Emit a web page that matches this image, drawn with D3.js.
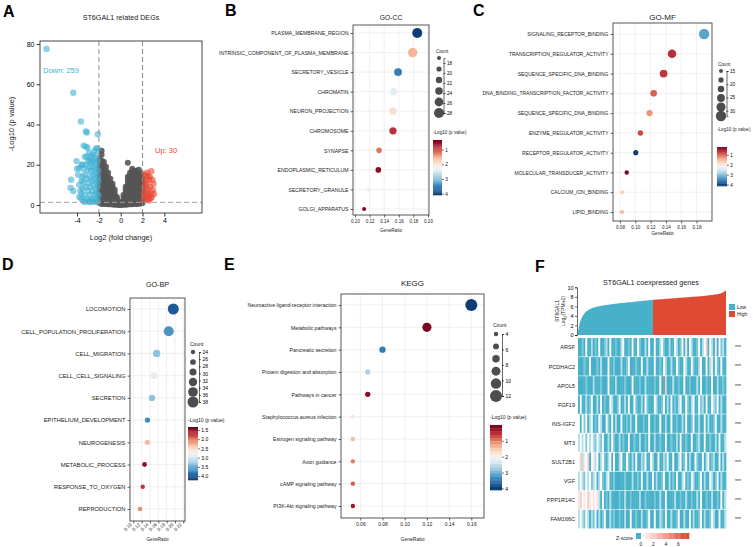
<!DOCTYPE html>
<html>
<head>
<meta charset="utf-8">
<script src="https://cdn.jsdelivr.net/npm/d3@7"></script>
<style>
  body { margin: 0; background: #fff; }
  svg { display: block; font-family: "Liberation Sans", Arial, sans-serif; }
</style>
</head>
<body>
<svg id="fig" width="753" height="547"></svg>
<script>
// ---------- A: volcano ----------
// [log2FC, -log10 p]
const volcanoDown = [
  [-6.8, 77.5], [-4.35, 55.8], [-3.65, 41.5], [-3.2, 36.5], [-3.1, 36], [-2.1, 35.2],
  [-3.4, 29.5], [-3.2, 29], [-3.05, 28.5], [-2.25, 28.2], [-2.1, 28], [-4.05, 21.8],
  [-3.5, 20], [-3.8, 18.3], [-4.55, 12.5], [-4.6, 8.5], [-4.35, 6.9], [-3.6, 5.4],
  [-3.3, 24], [-2.6, 25], [-2.8, 22], [-2.4, 23.5], [-3.6, 3], [-3.5, 8], [-3.5, 14],
  [-3.4, 18], [-3.4, 11], [-3.3, 5], [-3.3, 15], [-3.2, 20], [-3.2, 9], [-3.1, 3],
  [-3.1, 13], [-3.0, 17], [-3.0, 7], [-3.0, 22], [-2.9, 11], [-2.9, 2], [-2.9, 19],
  [-2.8, 5], [-2.8, 14], [-2.8, 9], [-2.7, 17], [-2.7, 3], [-2.7, 21], [-2.6, 7],
  [-2.6, 12], [-2.6, 19], [-2.5, 2], [-2.5, 10], [-2.5, 15], [-2.5, 22], [-2.4, 5],
  [-2.4, 13], [-2.4, 18], [-2.3, 8], [-2.3, 3], [-2.3, 16], [-2.3, 21], [-2.2, 11],
  [-2.2, 6], [-2.2, 19], [-2.2, 25], [-2.1, 2], [-2.1, 9], [-2.1, 14], [-2.1, 22],
  [-2.05, 5], [-2.05, 17], [-2.05, 12], [-3.9, 15], [-3.8, 10], [-3.7, 7], [-3.6, 12],
  [-3.6, 20], [-3.4, 2], [-3.3, 1.5], [-2.9, 1.5], [-2.6, 1.5], [-2.2, 1.5], [-3.8, 4],
  [-4.0, 18], [-3.1, 24], [-2.9, 26], [-2.4, 27], [-2.7, 24]
];
const volcanoUp = [
  [2.8, 16.8], [3.0, 10.6], [2.95, 7.6], [2.5, 14], [2.3, 14.5], [2.2, 12], [2.4, 11],
  [2.6, 12.5], [2.7, 9], [2.5, 8], [2.3, 7], [2.2, 4], [2.4, 4.5], [2.6, 5], [2.8, 6],
  [2.15, 9], [2.9, 12.5], [2.35, 2.5], [2.55, 3], [2.75, 3.5], [2.1, 6], [2.2, 15],
  [2.45, 6], [2.65, 14], [2.85, 4], [3.05, 5.5], [2.3, 10], [2.1, 2.5], [2.6, 2.2], [2.4, 16]
];
// not significant genes, grouped by log2FC column: [log2FC, [-log10 p ...]]
const volcanoGrey = [
  [-1.95, [1, 3, 5, 7, 9, 11, 13, 15, 17, 19, 21, 23]],
  [-1.75, [0.5, 2.5, 4.5, 6.5, 8.5, 10.5, 12.5, 14.5, 16.5, 18.5, 20.5, 22, 25, 27]],
  [-1.55, [0.5, 2, 4, 6, 8, 10, 12, 14, 16, 18, 20, 21.5]],
  [-1.35, [0.5, 2, 3.5, 5, 7, 9, 11, 13, 15, 17, 19]],
  [-1.15, [0.3, 1.5, 3, 4.5, 6, 8, 10, 12, 14, 16]],
  [-0.95, [0.3, 1.2, 2.5, 4, 5.5, 7, 9, 11, 13]],
  [-0.75, [0.2, 1, 2, 3, 4.5, 6, 7.5, 9, 10.5]],
  [-0.55, [0.1, 0.8, 1.6, 2.5, 3.5, 4.5, 6, 7.5]],
  [-0.35, [0.1, 0.6, 1.2, 2, 3, 4]],
  [-0.15, [0, 0.4, 0.9, 1.5]],
  [0.05, [0, 0.3, 0.7, 1.2]],
  [0.25, [0.1, 0.6, 1.3, 2.2, 3.5, 5]],
  [0.45, [0.1, 0.8, 1.8, 3, 4.5, 6, 7.5, 9]],
  [0.65, [0.2, 1, 2.2, 3.6, 5, 6.5, 8, 9.5, 11, 12.5, 14, 21]],
  [0.85, [0.3, 1.2, 2.5, 4, 5.5, 7, 8.5, 10, 11.5, 13, 14.5, 16]],
  [1.05, [0.4, 1.5, 3, 4.5, 6, 7.5, 9, 10.5, 12, 13.5, 15, 16.5, 18]],
  [1.25, [0.5, 2, 3.5, 5, 6.5, 8, 9.5, 11, 12.5, 14, 15.5, 17]],
  [1.45, [0.5, 2, 3.5, 5, 6.5, 8, 9.5, 11, 12.5, 14, 15.5, 17]],
  [1.65, [0.6, 2, 3.5, 5, 6.5, 8, 9.5, 11, 12.5, 14, 15.5, 17.5]],
  [1.85, [0.7, 2.2, 3.7, 5.2, 6.7, 8.2, 9.7, 11.2, 12.7, 14.2, 15.7]],
  [2.0, [1, 2.5, 4, 5.5, 7, 8.5, 10, 11.5, 13]]
];

// ---------- B: GO-CC ----------
const ccTerms = ["PLASMA_MEMBRANE_REGION", "INTRINSIC_COMPONENT_OF_PLASMA_MEMBRANE", "SECRETORY_VESICLE",
  "CHROMATIN", "NEURON_PROJECTION", "CHROMOSOME", "SYNAPSE", "ENDOPLASMIC_RETICULUM",
  "SECRETORY_GRANULE", "GOLGI_APPARATUS"];
const ccRatio = [0.1853, 0.179, 0.159, 0.153, 0.152, 0.152, 0.133, 0.132, 0.119, 0.1125];
const ccCount = [28, 27, 24, 23, 23, 23, 20, 20, 18, 17];
const ccLogP = [4.0, 1.59, 3.54, 2.41, 1.93, 0.84, 1.21, 0.54, 2.34, 0.46];

// ---------- C: GO-MF ----------
const mfTerms = ["SIGNALING_RECEPTOR_BINDING", "TRANSCRIPTION_REGULATOR_ACTIVITY", "SEQUENCE_SPECIFIC_DNA_BINDING",
  "DNA_BINDING_TRANSCRIPTION_FACTOR_ACTIVITY", "SEQUENCE_SPECIFIC_DNA_BINDING", "ENZYME_REGULATOR_ACTIVITY",
  "RECEPTOR_REGULATOR_ACTIVITY", "MOLECULAR_TRANSDUCER_ACTIVITY", "CALCIUM_ION_BINDING", "LIPID_BINDING"];
const mfRatio = [0.19, 0.148, 0.137, 0.124, 0.1186, 0.1067, 0.1006, 0.0888, 0.083, 0.0826];
const mfCount = [32, 27, 25, 22, 21, 19, 18, 16, 15, 15];
const mfLogP = [3.24, 0.71, 0.75, 0.99, 1.3, 0.87, 4.07, 0.32, 1.7, 1.54];

// ---------- D: GO-BP ----------
const bpTerms = ["LOCOMOTION", "CELL_POPULATION_PROLIFERATION", "CELL_MIGRATION", "CELL_CELL_SIGNALING",
  "SECRETION", "EPITHELIUM_DEVELOPMENT", "NEUROGENESIS", "METABOLIC_PROCESS", "RESPONSE_TO_OXYGEN", "REPRODUCTION"];
const bpRatio = [0.196, 0.185, 0.156, 0.150, 0.145, 0.134, 0.134, 0.127, 0.1226, 0.116];
const bpCount = [38, 36, 30, 29, 28, 26, 26, 25, 24, 24];
const bpLogP = [3.98, 3.64, 3.35, 2.89, 3.35, 3.69, 2.32, 1.51, 1.74, 2.11];

// ---------- E: KEGG ----------
const keggTerms = ["Neuroactive ligand-receptor interaction", "Metabolic pathways", "Pancreatic secretion",
  "Protein digestion and absorption", "Pathways in cancer", "Staphylococcus aureus infection",
  "Estrogen signaling pathway", "Axon guidance", "cAMP signaling pathway", "PI3K-Akt signaling pathway"];
const keggRatio = [0.16, 0.12, 0.08, 0.0667, 0.0667, 0.0533, 0.0533, 0.0533, 0.0533, 0.0533];
const keggCount = [12, 9, 6, 5, 5, 4, 4, 4, 4, 4];
const keggLogP = [4.0, 0.1, 3.5, 2.7, 0.2, 1.85, 1.4, 1.0, 0.82, 0.33];

// ---------- F: co-expression heatmap ----------
const stGroups = ["Low", "High"];
const stExpr = [
  0.8, 2.6, 3.6, 4.3, 4.8, 5.1, 5.35, 5.55, 5.7, 5.82,
  5.93, 6.02, 6.1, 6.17, 6.24, 6.3, 6.36, 6.41, 6.46, 6.51,
  6.56, 6.6, 6.65, 6.69, 6.73, 6.77, 6.81, 6.85, 6.89, 6.93,
  6.97, 7.01, 7.05, 7.09, 7.13, 7.17, 7.21, 7.25, 7.29, 7.33,
  7.37, 7.40, 7.43, 7.46, 7.49, 7.52, 7.55, 7.58, 7.61, 7.64,
  7.67, 7.70, 7.73, 7.76, 7.79, 7.82, 7.85, 7.88, 7.91, 7.94,
  7.97, 8.00, 8.03, 8.06, 8.09, 8.12, 8.15, 8.19, 8.23, 8.27,
  8.31, 8.36, 8.41, 8.47, 8.54, 8.62, 8.72, 8.85, 9.05, 9.4
];
const hmGenes = ["ARSF", "PCDHAC2", "APOL5", "FGF19", "INS-IGF2", "MT3", "SULT2B1", "VGF", "PPP1R14C", "FAM166C"];
// one letter per sample, z-score level a..h
const hmLevels = { a: -1, b: -0.72, c: -0.42, d: 0.05, e: 1, f: 2, g: 3, h: 5 };
const hmRows = [
  "aabadaacab adaabcadaa baacdaabad aadbaacada adaacdbaac aadcabdaea dcaabdacdf adcaeadbca",
  "aaabaadaaa bacaaadaab aaacaabdaa abaadaacaa adaabadcaa caadbaadca adbaacdaad aceadbadaa",
  "aaaabaaaca aabaaadaaa caaaabaaad aaabaacaaa abaadaafaa acaabaadaa baaacadaab aadaacaaba",
  "adaacabdaa cadabaadca abdaacadaa dbaacadbaa adcaabdaca dabacdaadb acdaadbcad aadcbdacaa",
  "dadbdacdab adcaadbada caadaabaca adaaabaada abaadaacaa daabaacada abdaacaada caabdaacaa",
  "cdcdbdcdcb dcbdaacadb aacabaadaa baacaabada acaabaadaa baacadaaba adaabcaada abaacadaac",
  "dfcedfadec dacdbacdad aacdaadbac adaacbdaad caadaacbda adaacdabda caadbaadac dabcaadaca",
  "cdcbdcdbcd acdbacdaab aaaaabaaac aabadaacaa dacaabdaac abadaacdab adcaabdaca adcabdacaa",
  "efdedfeded ecadabacaa aabaacaaba aaacaabaaa abaacaadaa aacaabaaca abaacadaab aacaabadac",
  "cdcbdcacbd acabdaacab aabaacaada abaacaabda adaacbadaa caabdaacaa dacaabdaca abdcaadaac"
];
const zTicks = [0, 2, 4, 6];

// =====================================================
const svg = d3.select("#fig");

function panelLetter(t, x, y) {
  svg.append("text").attr("x", x).attr("y", y).text(t)
    .attr("font-size", 16).attr("font-weight", "bold").attr("fill", "#000");
}

// ---------- A ----------
{
  const ax = d3.scaleLinear().domain([-7.4, 7.45]).range([40, 202]);
  const ay = d3.scaleLinear().domain([-4, 81.5]).range([213, 41]);
  const g = svg.append("g");

  const greyPts = volcanoGrey.flatMap(c => c[1].map(p => [c[0], p]));
  g.append("g").selectAll("circle").data(greyPts).join("circle")
    .attr("cx", d => ax(d[0])).attr("cy", d => ay(d[1])).attr("r", 3)
    .attr("fill", "#555").attr("fill-opacity", 0.9);
  g.append("g").selectAll("circle").data(volcanoDown).join("circle")
    .attr("cx", d => ax(d[0])).attr("cy", d => ay(d[1])).attr("r", 3.2)
    .attr("fill", "#3fb1d3").attr("fill-opacity", 0.6);
  g.append("g").selectAll("circle").data(volcanoUp).join("circle")
    .attr("cx", d => ax(d[0])).attr("cy", d => ay(d[1])).attr("r", 3.2)
    .attr("fill", "#e84a33").attr("fill-opacity", 0.6);

  [-2, 2].forEach(v => {
    g.append("line").attr("x1", ax(v)).attr("x2", ax(v)).attr("y1", 41).attr("y2", 213)
      .attr("stroke", "#8c8c8c").attr("stroke-width", 1).attr("stroke-dasharray", "5,3");
  });
  g.append("line").attr("x1", 40).attr("x2", 202).attr("y1", ay(1.3)).attr("y2", ay(1.3))
    .attr("stroke", "#a0a0a0").attr("stroke-width", 1).attr("stroke-dasharray", "5,3");

  g.append("rect").attr("x", 40).attr("y", 41).attr("width", 162).attr("height", 172)
    .attr("fill", "none").attr("stroke", "#333").attr("stroke-width", 0.9);

  g.append("g").attr("transform", "translate(40,0)")
    .call(d3.axisLeft(ay).tickValues([0, 20, 40, 60, 80]).tickSize(3.5).tickPadding(2))
    .call(a => a.select(".domain").remove())
    .attr("font-size", 7).attr("font-family", null)
    .call(a => a.selectAll("line").attr("stroke", "#333"));
  g.append("g").attr("transform", "translate(0,213)")
    .call(d3.axisBottom(ax).tickValues([-4, -2, 0, 2, 4]).tickFormat(d => String(d)).tickSize(3.5).tickPadding(2))
    .call(a => a.select(".domain").remove())
    .attr("font-size", 7).attr("font-family", null)
    .call(a => a.selectAll("line").attr("stroke", "#333"));

  g.append("text").attr("x", 121).attr("y", 20).attr("text-anchor", "middle")
    .attr("font-size", 7.2).attr("fill", "#222").text("ST6GAL1 related DEGs");
  g.append("text").attr("x", 121).attr("y", 240).attr("text-anchor", "middle")
    .attr("font-size", 7.5).attr("fill", "#222").text("Log2 (fold change)");
  g.append("text").attr("transform", "translate(14,124) rotate(-90)").attr("text-anchor", "middle")
    .attr("font-size", 7.5).attr("fill", "#222").text("-Log10 (p value)");
  g.append("text").attr("x", 43).attr("y", 73).attr("font-size", 7.5).attr("fill", "#3fb1d3").text("Down: 259");
  g.append("text").attr("x", 155).attr("y", 153).attr("font-size", 7.5).attr("fill", "#e84a33").text("Up: 30");
}

// ---------- dot plots ----------
function dotPanel(p) {
  const g = svg.append("g");
  const n = p.terms.length;
  const [l, t, r, b] = p.box;
  const x = d3.scaleLinear().domain(p.xDomain).range(p.xRange);
  const y = d3.scalePoint().domain(d3.range(n)).range([p.yFirst, p.yLast]);
  const sz = d3.scaleLinear().domain(p.countDomain).range(p.rRange);
  const col = d3.scaleSequential(d3.interpolateRdBu).domain(p.colorDomain).clamp(true);

  g.append("g").selectAll("line").data(p.xTicks).join("line")
    .attr("x1", d => x(d)).attr("x2", d => x(d)).attr("y1", t).attr("y2", b)
    .attr("stroke", "#e6e6e6").attr("stroke-width", 0.6);
  g.append("g").selectAll("line").data(d3.range(n)).join("line")
    .attr("x1", l).attr("x2", r).attr("y1", d => y(d)).attr("y2", d => y(d))
    .attr("stroke", "#e6e6e6").attr("stroke-width", 0.6);

  g.append("g").selectAll("circle").data(d3.range(n)).join("circle")
    .attr("cx", i => x(p.ratio[i])).attr("cy", i => y(i)).attr("r", i => sz(p.count[i]))
    .attr("fill", i => col(p.logp[i]));

  g.append("rect").attr("x", l).attr("y", t).attr("width", r - l).attr("height", b - t)
    .attr("fill", "none").attr("stroke", "#444").attr("stroke-width", 0.9);

  g.append("g").attr("transform", `translate(${l},0)`)
    .call(d3.axisLeft(y).tickFormat(i => p.terms[i]).tickSize(2.5).tickPadding(2))
    .call(a => a.select(".domain").remove())
    .attr("font-size", p.labelSize).attr("font-family", null)
    .call(a => a.selectAll("line").attr("stroke-width", 0.6))
    .call(a => a.selectAll("text").attr("fill", "#222"));

  const xa = g.append("g").attr("transform", `translate(0,${b})`)
    .call(d3.axisBottom(x).tickValues(p.xTicks).tickFormat(d3.format(".2f")).tickSize(2.5).tickPadding(2))
    .call(a => a.select(".domain").remove())
    .attr("font-size", p.tickSize).attr("font-family", null)
    .call(a => a.selectAll("line").attr("stroke-width", 0.6))
    .call(a => a.selectAll("text").attr("fill", "#222"));
  if (p.rotate) {
    xa.selectAll("text").attr("y", 0).attr("x", -4).attr("dy", "0.35em")
      .attr("transform", "rotate(-45)").attr("text-anchor", "end");
  }

  g.append("text").attr("x", (l + r) / 2).attr("y", p.titleY).attr("text-anchor", "middle")
    .attr("font-size", p.titleSize).attr("fill", "#222").text(p.title);
  g.append("text").attr("x", (l + r) / 2).attr("y", p.xLabelY).attr("text-anchor", "middle")
    .attr("font-size", p.tickSize).attr("fill", "#222").text("GeneRatio");

  // size legend
  const cl = p.countLeg;
  const ly = d3.scaleLinear().domain(p.countDomain).range([cl.y0, cl.y1]);
  g.append("text").attr("x", cl.x - 3).attr("y", cl.titleY).attr("font-size", p.legSize)
    .attr("fill", "#222").text("Count");
  g.append("g").selectAll("circle").data(d3.range(6)).join("circle")
    .attr("cx", cl.x).attr("cy", k => cl.y0 + k * (cl.y1 - cl.y0) / 5)
    .attr("r", k => sz(ly.invert(cl.y0 + k * (cl.y1 - cl.y0) / 5)))
    .attr("fill", "#4d4d4d");
  g.append("g").attr("transform", `translate(${cl.lineX},0)`)
    .call(d3.axisRight(ly).tickValues(cl.ticks).tickSize(2).tickPadding(1.5))
    .attr("font-size", p.legSize).attr("font-family", null)
    .call(a => a.select(".domain").attr("stroke-width", 0.6))
    .call(a => a.selectAll("line").attr("stroke-width", 0.6));

  // colour bar
  const cb = p.colorLeg;
  const cy = d3.scaleLinear().domain(p.colorDomain).range([cb.y0, cb.y1]);
  const h = (cb.y1 - cb.y0) / cb.bands;
  g.append("text").attr("x", cb.x).attr("y", cb.titleY).attr("font-size", p.legSize)
    .attr("fill", "#222").text("-Log10 (p value)");
  g.append("g").selectAll("rect").data(d3.range(cb.bands)).join("rect")
    .attr("x", cb.x).attr("y", k => cb.y0 + k * h).attr("width", cb.w).attr("height", h + 0.3)
    .attr("fill", k => col(cy.invert(cb.y0 + (k + 0.5) * h)));
  g.append("g").attr("transform", `translate(${cb.x + cb.w},0)`)
    .call(d3.axisRight(cy).tickValues(cb.ticks).tickFormat(cb.fmt).tickSize(1.8).tickPadding(1.5))
    .attr("font-size", p.legSize).attr("font-family", null)
    .call(a => a.select(".domain").remove())
    .call(a => a.selectAll("line").attr("stroke-width", 0.6));
}

dotPanel({
  title: "GO-CC", terms: ccTerms, ratio: ccRatio, count: ccCount, logp: ccLogP,
  box: [353, 25, 429, 215], yFirst: 33, yLast: 209,
  xDomain: [0.10, 0.20], xRange: [355, 428], xTicks: [0.10, 0.12, 0.14, 0.16, 0.18, 0.20],
  countDomain: [17, 28], rRange: [2, 5], colorDomain: [0.35, 4.1],
  labelSize: 5.2, tickSize: 4.6, titleSize: 6.8, legSize: 4.6, titleY: 20, xLabelY: 232,
  countLeg: { x: 439, titleY: 53, y0: 58, y1: 113, lineX: 443.5, ticks: [18, 20, 22, 24, 26, 28] },
  colorLeg: { x: 433, w: 9, y0: 140, y1: 195, titleY: 134, bands: 60, ticks: [1, 2, 3, 4], fmt: d3.format("d") }
});

dotPanel({
  title: "GO-MF", terms: mfTerms, ratio: mfRatio, count: mfCount, logp: mfLogP,
  box: [613, 23, 712, 221], yFirst: 34, yLast: 212,
  xDomain: [0.08, 0.18], xRange: [620, 696.5], xTicks: [0.08, 0.10, 0.12, 0.14, 0.16, 0.18],
  countDomain: [15, 32], rRange: [2, 5.2], colorDomain: [0.2, 4.15],
  labelSize: 5, tickSize: 4.6, titleSize: 8, legSize: 4.6, titleY: 20, xLabelY: 235,
  countLeg: { x: 721, titleY: 66, y0: 71, y1: 116, lineX: 726.5, ticks: [15, 20, 25, 30] },
  colorLeg: { x: 717, w: 10, y0: 147, y1: 186, titleY: 131, bands: 60, ticks: [1, 2, 3, 4], fmt: d3.format("d") }
});

dotPanel({
  title: "GO-BP", terms: bpTerms, ratio: bpRatio, count: bpCount, logp: bpLogP,
  box: [130, 298, 185, 521], yFirst: 309, yLast: 509, rotate: true,
  xDomain: [0.10, 0.22], xRange: [133.3, 183.3], xTicks: [0.10, 0.12, 0.14, 0.16, 0.18, 0.20, 0.22],
  countDomain: [24, 38], rRange: [2.2, 5.5], colorDomain: [1.34, 4.21],
  labelSize: 5.8, tickSize: 4.6, titleSize: 7.2, legSize: 5, titleY: 287, xLabelY: 541,
  countLeg: { x: 193, titleY: 346, y0: 352, y1: 402, lineX: 199, ticks: [24, 26, 28, 30, 32, 34, 36, 38] },
  colorLeg: { x: 188, w: 10, y0: 427, y1: 480, titleY: 422, bands: 60, ticks: [1.5, 2, 2.5, 3, 3.5, 4], fmt: d3.format(".1f") }
});

dotPanel({
  title: "KEGG", terms: keggTerms, ratio: keggRatio, count: keggCount, logp: keggLogP,
  box: [341, 294, 484, 518], yFirst: 305, yLast: 506,
  xDomain: [0.06, 0.16], xRange: [360.3, 471.3], xTicks: [0.06, 0.08, 0.10, 0.12, 0.14, 0.16],
  countDomain: [4, 12], rRange: [2.2, 6], colorDomain: [0, 4.1],
  labelSize: 5.2, tickSize: 5, titleSize: 8, legSize: 5, titleY: 286, xLabelY: 541,
  countLeg: { x: 496, titleY: 327, y0: 334, y1: 396, lineX: 502, ticks: [4, 6, 8, 10, 12] },
  colorLeg: { x: 490, w: 12, y0: 425, y1: 490, titleY: 419, bands: 20, ticks: [1, 2, 3, 4], fmt: d3.format("d") }
});

// ---------- F ----------
{
  const g = svg.append("g");
  const nS = stExpr.length;
  const ex = d3.scaleLinear().domain([0, nS - 1]).range([578, 726]);
  const ey = d3.scaleLinear().domain([0, 10]).range([335, 287.3]);
  const grpCol = d3.scaleOrdinal().domain(stGroups).range(["#46b1c9", "#e04a32"]);
  const area = d3.area().x(d => ex(d[0])).y0(ey(0)).y1(d => ey(d[1]));
  const pts = stExpr.map((v, i) => [i, v]);
  const half = nS / 2;
  g.append("path").datum(pts.slice(0, half + 1)).attr("d", area).attr("fill", grpCol("Low"));
  g.append("path").datum(pts.slice(half)).attr("d", area).attr("fill", grpCol("High"));

  g.append("g").attr("transform", "translate(577,0)")
    .call(d3.axisLeft(ey).tickValues([0, 2, 4, 6, 8, 10]).tickSize(2).tickPadding(1.5))
    .attr("font-size", 5.5).attr("font-family", null)
    .call(a => a.select(".domain").attr("stroke-width", 0.6))
    .call(a => a.selectAll("line").attr("stroke-width", 0.6));
  const yl = g.append("text").attr("transform", "translate(559,311) rotate(-90)")
    .attr("text-anchor", "middle").attr("font-size", 5).attr("fill", "#222");
  yl.append("tspan").attr("x", 0).attr("dy", 0).text("ST6GAL1");
  const l2 = yl.append("tspan").attr("x", 0).attr("dy", 6).text("Log");
  l2.append("tspan").attr("font-size", 3.8).attr("dy", 1.5).text("2");
  l2.append("tspan").attr("dy", -1.5).text("(TPM+1)");

  g.append("text").attr("x", 651).attr("y", 285).attr("text-anchor", "middle")
    .attr("font-size", 7.2).attr("fill", "#222").text("ST6GAL1 coexpressed genes");

  stGroups.forEach((s, i) => {
    g.append("rect").attr("x", 729).attr("y", 304 + i * 7).attr("width", 6).attr("height", 6)
      .attr("fill", grpCol(s));
    g.append("text").attr("x", 737).attr("y", 309 + i * 7).attr("font-size", 5)
      .attr("fill", "#222").text(s);
  });

  const hx = d3.scaleBand().domain(d3.range(nS)).range([578, 726]);
  const hy = d3.scaleBand().domain(hmGenes).range([338, 529]);
  const zc = d3.scaleLinear().domain([-1, 0, 7.2]).range(["#46b1c9", "#ffffff", "#e04a32"]).clamp(true);
  const cells = [];
  hmRows.forEach((row, ri) => {
    row.replace(/ /g, "").split("").forEach((ch, ci) => cells.push({ gene: hmGenes[ri], i: ci, z: hmLevels[ch] }));
  });
  g.append("g").selectAll("rect").data(cells).join("rect")
    .attr("x", d => hx(d.i)).attr("y", d => hy(d.gene))
    .attr("width", hx.bandwidth() + 0.35).attr("height", hy.bandwidth() - 0.6)
    .attr("fill", d => zc(d.z));

  g.append("g").selectAll("text").data(hmGenes).join("text")
    .attr("x", 575).attr("y", d => hy(d) + hy.bandwidth() / 2).attr("dy", "0.35em")
    .attr("text-anchor", "end").attr("font-size", 5.5).attr("fill", "#222").text(d => d);
  g.append("g").selectAll("text").data(hmGenes).join("text")
    .attr("x", 738).attr("y", d => hy(d) + hy.bandwidth() / 2).attr("dy", "0.35em")
    .attr("text-anchor", "middle").attr("font-size", 5).attr("fill", "#222").text("***");

  // z-score key
  const zx = d3.scaleLinear().domain([0, 7.7]).range([641, 689]);
  g.append("rect").attr("x", 636).attr("y", 533).attr("width", 5).attr("height", 6).attr("fill", zc(-1));
  g.append("g").selectAll("rect").data(d3.range(40)).join("rect")
    .attr("x", k => 641 + k * 48 / 40).attr("y", 533).attr("width", 48 / 40 + 0.3).attr("height", 6)
    .attr("fill", k => zc(zx.invert(641 + (k + 0.5) * 48 / 40)));
  g.append("g").selectAll("text").data(zTicks).join("text")
    .attr("x", d => zx(d)).attr("y", 546).attr("text-anchor", "middle")
    .attr("font-size", 5).attr("fill", "#222").text(d => d);
  g.append("text").attr("x", 633).attr("y", 540).attr("text-anchor", "end")
    .attr("font-size", 5).attr("fill", "#222").text("Z-score");
}

panelLetter("A", 3, 17);
panelLetter("B", 225, 16);
panelLetter("C", 473, 16);
panelLetter("D", 2, 270);
panelLetter("E", 224, 270);
panelLetter("F", 535, 272);
</script>
</body>
</html>
